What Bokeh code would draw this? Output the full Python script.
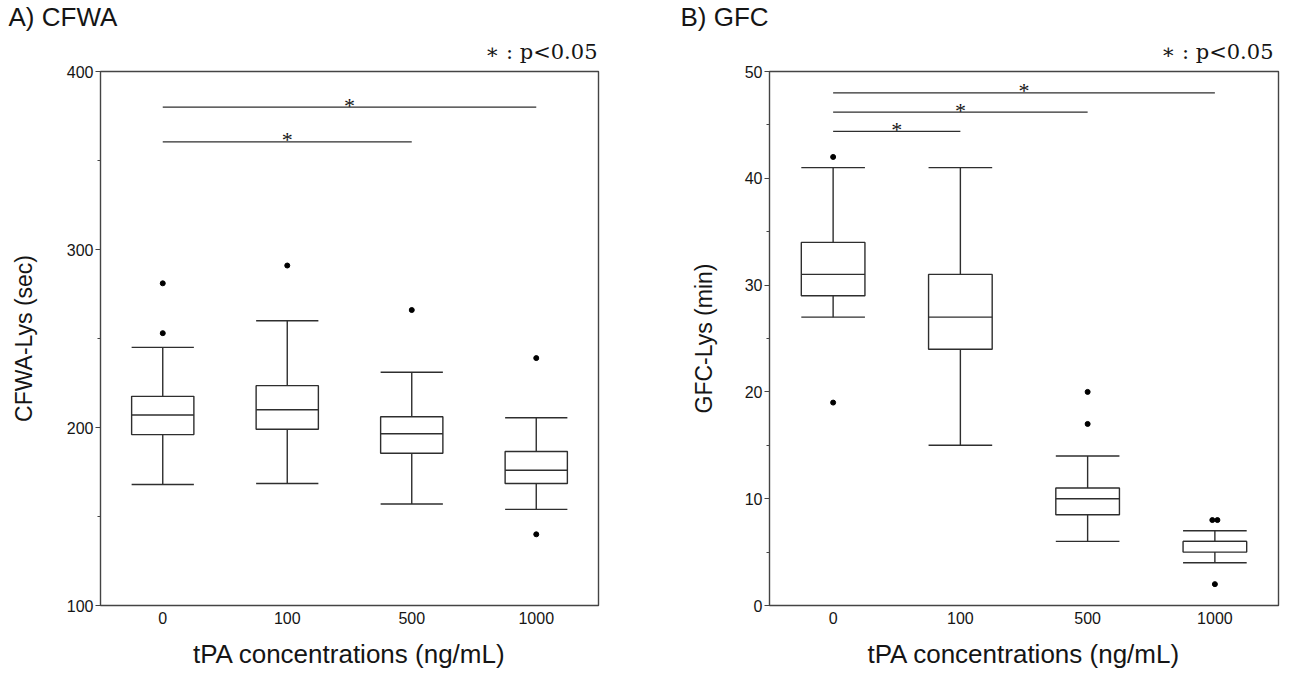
from bokeh.plotting import figure
from bokeh.models import FactorRange, Range1d, SingleIntervalTicker, ColumnDataSource, Title
from bokeh.transform import dodge
from bokeh.layouts import row
from bokeh.embed import file_html
from bokeh.resources import INLINE
from bokeh.core.properties import value

# ---------------- data ----------------
categories = ["0", "100", "500", "1000"]

# A) CFWA-Lys (sec)
cfwa_lower = [168, 168.5, 157, 154]
cfwa_q1 = [196, 199, 185.5, 168.5]
cfwa_median = [207, 210, 196.5, 176]
cfwa_q3 = [217.5, 223.5, 206, 186.5]
cfwa_upper = [245, 260, 231, 205.5]
cfwa_out_cat = ["0", "0", "100", "500", "1000", "1000"]
cfwa_out_val = [281, 253, 291, 266, 239, 140]
cfwa_sig_from = ["0", "0"]
cfwa_sig_to = ["1000", "500"]
cfwa_sig_y = [380, 360.5]

# B) GFC-Lys (min)
gfc_lower = [27, 15, 6, 4]
gfc_q1 = [29, 24, 8.5, 5]
gfc_median = [31, 27, 10, 6]
gfc_q3 = [34, 31, 11, 6]
gfc_upper = [41, 41, 14, 7]
gfc_out_cat = ["0", "0", "500", "500", "1000", "1000", "1000"]
gfc_out_val = [42, 19, 20, 17, 8, 8, 2]
gfc_sig_from = ["0", "0", "0"]
gfc_sig_to = ["1000", "500", "100"]
gfc_sig_y = [48, 46.2, 44.4]

LINE = "#2e2e2e"
TXT = "#151515"
SANS = "Liberation Sans"


def panel(title, ylabel, yr, interval, lower, q1, med, q3, upper,
          out_cat, out_val, sig_from, sig_to, sig_y, borders, title_off, ylab_standoff, note_off):
    bl, br, bt, bb = borders
    p = figure(x_range=FactorRange(factors=categories), y_range=Range1d(*yr),
               width=645, height=673, output_backend="svg", toolbar_location=None,
               min_border_left=bl, min_border_right=br, min_border_top=bt, min_border_bottom=bb,
               background_fill_color="white", border_fill_color="white")
    p.xgrid.visible = False
    p.ygrid.visible = False
    p.outline_line_color = "#444444"
    p.outline_line_width = 1.4

    src = ColumnDataSource(dict(cat=categories, lower=lower, q1=q1, med=med, q3=q3, upper=upper))
    # whiskers
    p.segment(x0="cat", x1="cat", y0="q3", y1="upper", source=src, line_color=LINE, line_width=1.4)
    p.segment(x0="cat", x1="cat", y0="q1", y1="lower", source=src, line_color=LINE, line_width=1.4)
    for col in ("upper", "lower"):
        p.segment(x0=dodge("cat", -0.25, range=p.x_range), x1=dodge("cat", 0.25, range=p.x_range),
                  y0=col, y1=col, source=src, line_color=LINE, line_width=1.4)
    # boxes
    p.vbar(x="cat", bottom="q1", top="q3", width=0.5, source=src,
           fill_color="white", line_color=LINE, line_width=1.4)
    p.segment(x0=dodge("cat", -0.25, range=p.x_range), x1=dodge("cat", 0.25, range=p.x_range),
              y0="med", y1="med", source=src, line_color=LINE, line_width=1.4)

    # outliers (identical values spread side by side)
    counts = {}
    for c, v in zip(out_cat, out_val):
        counts[(c, v)] = counts.get((c, v), 0) + 1
    seen = {}
    ox = []
    for c, v in zip(out_cat, out_val):
        n = counts[(c, v)]
        k = seen.get((c, v), 0)
        seen[(c, v)] = k + 1
        ox.append(categories.index(c) + 0.5 + (k - (n - 1) / 2) * 0.04)
    p.scatter(x=ox, y=out_val, size=5, color="black")

    # significance bars
    p.segment(x0=sig_from, x1=sig_to, y0=sig_y, y1=sig_y, line_color=LINE, line_width=1.3)
    mids = [(categories.index(a) + categories.index(b)) / 2 + 0.5 for a, b in zip(sig_from, sig_to)]
    p.text(x=mids, y=sig_y, text=["*"] * len(mids), text_align="center", text_baseline="alphabetic",
           y_offset=-2, text_font=value("Liberation Serif"), text_font_size="22px", text_color=TXT)

    # axes
    ya = p.yaxis[0]
    ya.ticker = SingleIntervalTicker(interval=interval, num_minor_ticks=2)
    ya.axis_line_color = None
    ya.major_tick_in = 0
    ya.major_tick_out = 5
    ya.minor_tick_in = 0
    ya.minor_tick_out = 3
    ya.major_tick_line_color = "#444444"
    ya.minor_tick_line_color = "#444444"
    ya.major_label_standoff = 2
    ya.major_label_text_font = SANS
    ya.major_label_text_font_size = "16px"
    ya.major_label_text_color = TXT
    ya.axis_label = ylabel
    ya.axis_label_text_font = SANS
    ya.axis_label_text_font_style = "normal"
    ya.axis_label_text_font_size = "23px"
    ya.axis_label_text_color = TXT
    ya.axis_label_standoff = ylab_standoff

    xa = p.xaxis[0]
    xa.axis_line_color = None
    xa.major_tick_line_color = None
    xa.minor_tick_line_color = None
    xa.major_label_standoff = 0
    xa.major_label_text_font = SANS
    xa.major_label_text_font_size = "16px"
    xa.major_label_text_color = TXT
    xa.axis_label = "tPA concentrations (ng/mL)"
    xa.axis_label_text_font = SANS
    xa.axis_label_text_font_style = "normal"
    xa.axis_label_text_font_size = "26px"
    xa.axis_label_text_color = TXT
    xa.axis_label_standoff = 12

    # significance note (nearest the frame), then panel title above it
    p.add_layout(Title(text="∗ : p<0.05", align="right", offset=note_off, standoff=16,
                       text_font="DejaVu Serif", text_font_size="21px",
                       text_font_style="normal", text_color=TXT), "above")
    p.add_layout(Title(text=title, align="left", offset=title_off, standoff=-4,
                       text_font=SANS, text_font_size="26px",
                       text_font_style="normal", text_color=TXT), "above")
    return p


p1 = panel("A) CFWA", "CFWA-Lys (sec)", (100, 400), 100,
           cfwa_lower, cfwa_q1, cfwa_median, cfwa_q3, cfwa_upper,
           cfwa_out_cat, cfwa_out_val, cfwa_sig_from, cfwa_sig_to, cfwa_sig_y,
           (100, 47, 71, 68), -92, 27, 1)
p2 = panel("B) GFC", "GFC-Lys (min)", (0, 50), 10,
           gfc_lower, gfc_q1, gfc_median, gfc_q3, gfc_upper,
           gfc_out_cat, gfc_out_val, gfc_sig_from, gfc_sig_to, gfc_sig_y,
           (124, 12, 70, 68), -89, 25, 5)

layout = row(p1, p2)
open("out.html", "w").write(file_html(layout, INLINE))
